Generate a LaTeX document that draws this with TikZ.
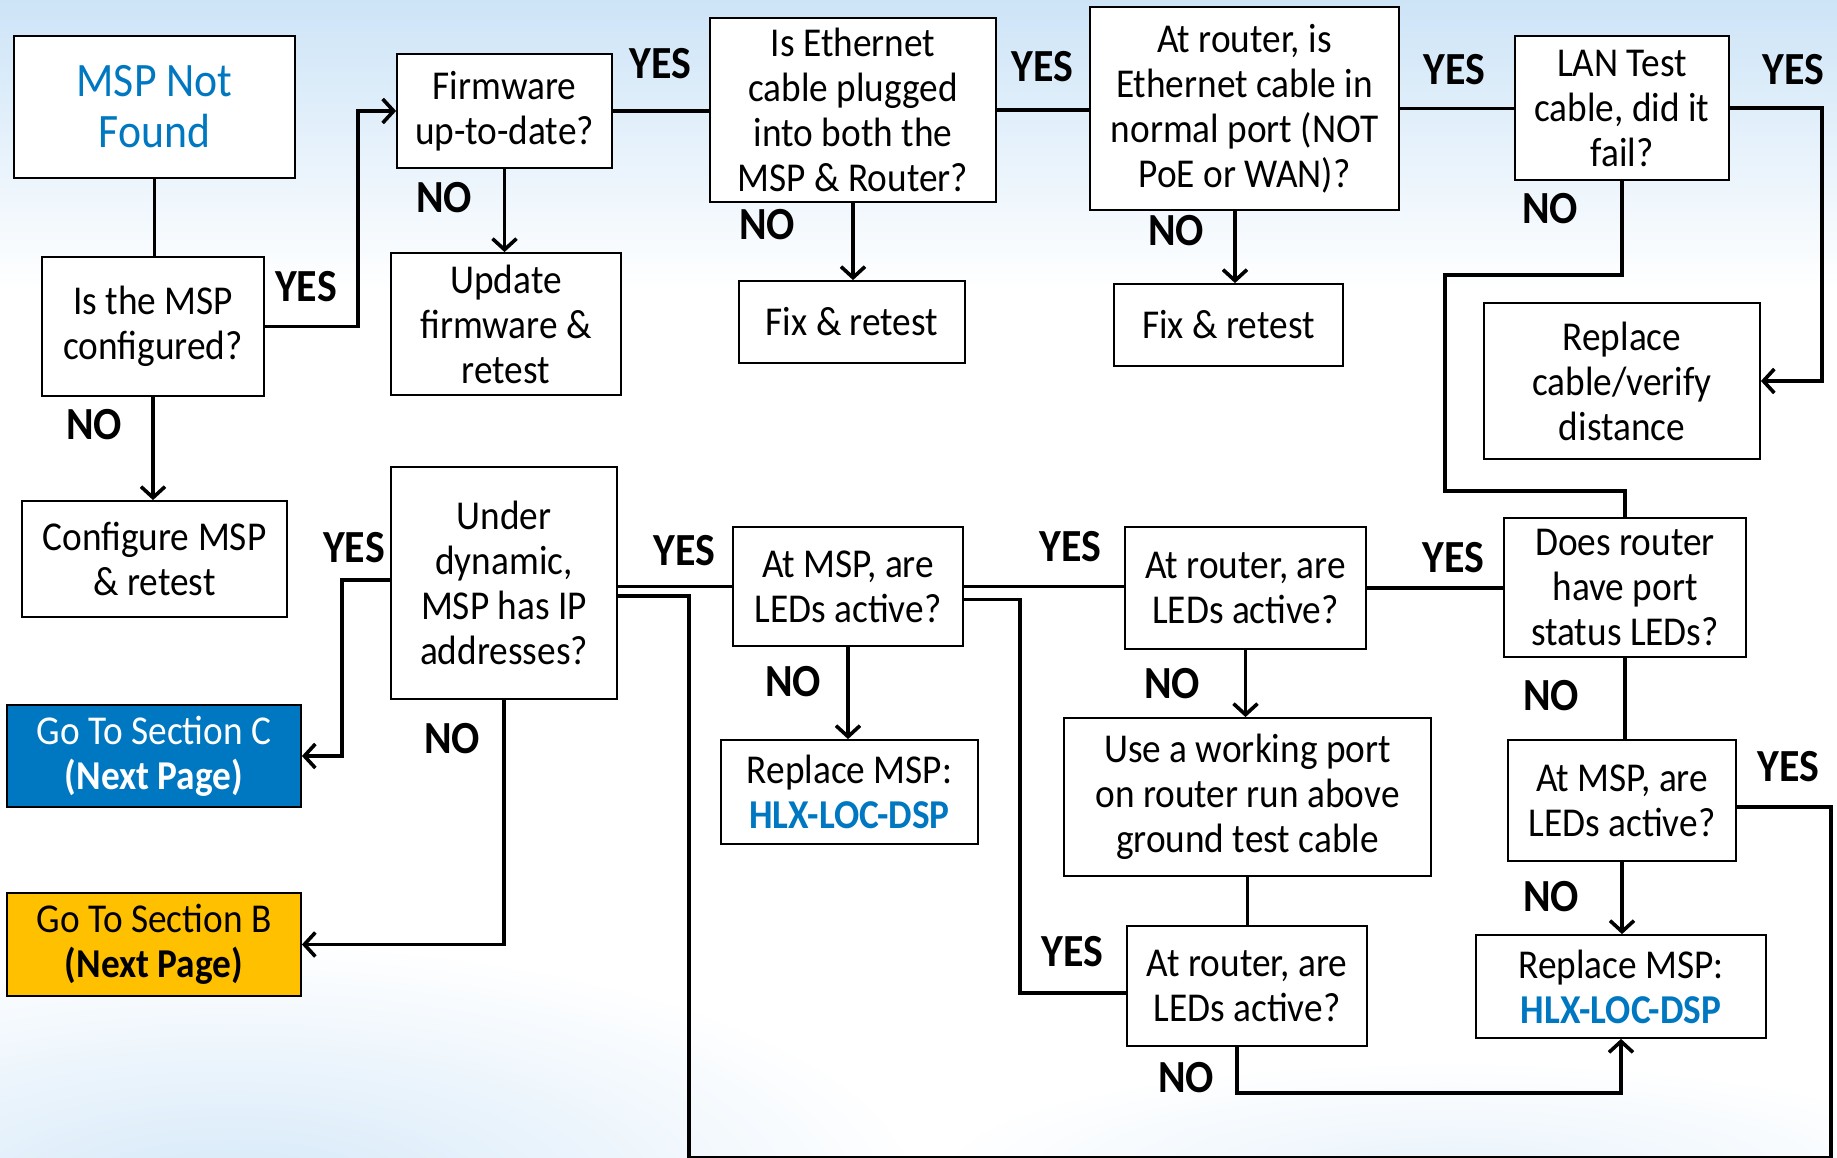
\documentclass[tikz,border=0pt]{standalone}
\usepackage{fontspec}
\setmainfont{Carlito}[FakeStretch=0.91]
\usetikzlibrary{arrows.meta}
\definecolor{mblue}{RGB}{0,120,193}
\definecolor{secyellow}{RGB}{255,192,0}
\definecolor{bgblue}{RGB}{205,228,247}
\tikzset{
  box/.style={draw=black, line width=1.8pt, fill=white, align=center, inner sep=0pt,
    font=\fontsize{41}{45}\selectfont},
  conn/.style={line width=3.6pt, draw=black},
  arr/.style={conn, -{Straight Barb[length=11pt, width=24pt]}},
  lbl/.style={font=\fontsize{46}{46}\selectfont\bfseries, inner sep=0pt},
}
\begin{document}
\begin{tikzpicture}[x=1pt, y=-1pt]
\useasboundingbox (0,0) rectangle (1837,1158);
% background
\fill[white] (0,0) rectangle (1837,1158);
\shade[top color=bgblue, bottom color=white] (0,0) rectangle (1837,290);
\shade[inner color=bgblue!85, outer color=white] (230,1200) ellipse (700 and 260);
\shade[inner color=bgblue!45, outer color=white] (1450,1170) ellipse (520 and 110);

% nodes
\node[box, minimum width=281pt, minimum height=142pt, text=mblue,
      font=\fontsize{48}{51}\selectfont] (msp) at (154.5,107) {MSP Not\\Found};
\node[box, minimum width=222pt, minimum height=139pt] (cfgq) at (153,326.5) {Is the MSP\\configured?};
\node[box, minimum width=265pt, minimum height=116pt] (cfg) at (154.5,559) {Configure MSP\\\& retest};
\node[box, minimum width=215pt, minimum height=114pt] (fw) at (504.5,111) {Firmware\\up-to-date?};
\node[box, minimum width=230pt, minimum height=142pt] (upd) at (506,324) {Update\\firmware \&\\retest};
\node[box, minimum width=286pt, minimum height=184pt] (eth) at (853,110) {Is Ethernet\\cable plugged\\into both the\\MSP \& Router?};
\node[box, minimum width=226pt, minimum height=82pt] (fix1) at (852,322) {Fix \& retest};
\node[box, minimum width=309pt, minimum height=203pt] (port) at (1244.5,108.5) {At router, is\\Ethernet cable in\\normal port (NOT\\PoE or WAN)?};
\node[box, minimum width=229pt, minimum height=82pt] (fix2) at (1228.5,325) {Fix \& retest};
\node[box, minimum width=214pt, minimum height=144pt] (lan) at (1622,108) {LAN Test\\cable, did it\\fail?};
\node[box, minimum width=276pt, minimum height=156pt] (repc) at (1622,381) {Replace\\cable/verify\\distance};
\node[box, minimum width=242pt, minimum height=139pt] (ports) at (1625,587.5) {Does router\\have port\\status LEDs?};
\node[box, minimum width=241pt, minimum height=122pt] (rled1) at (1245.5,588) {At router, are\\LEDs active?};
\node[box, minimum width=230pt, minimum height=119pt] (mled1) at (848,586.5) {At MSP, are\\LEDs active?};
\node[box, minimum width=226pt, minimum height=232pt] (dyn) at (504,583) {Under\\dynamic,\\MSP has IP\\addresses?};
\node[box, minimum width=294pt, minimum height=102pt, fill=mblue, text=white] (secC) at (154,756) {Go To Section C\\\textbf{(Next Page)}};
\node[box, minimum width=294pt, minimum height=103pt, fill=secyellow] (secB) at (154,944.5) {Go To Section B\\\textbf{(Next Page)}};
\node[box, minimum width=257pt, minimum height=104pt] (rep1) at (849.5,792) {Replace MSP:\\\textcolor{mblue}{\bfseries HLX-LOC-DSP}};
\node[box, minimum width=367pt, minimum height=158pt] (work) at (1247.5,797) {Use a working port\\on router run above\\ground test cable};
\node[box, minimum width=240pt, minimum height=120pt] (rled2) at (1247,986) {At router, are\\LEDs active?};
\node[box, minimum width=228pt, minimum height=121pt] (mled2) at (1622,800.5) {At MSP, are\\LEDs active?};
\node[box, minimum width=290pt, minimum height=103pt] (rep2) at (1621,986.5) {Replace MSP:\\\textcolor{mblue}{\bfseries HLX-LOC-DSP}};

% labels
\node[lbl] (yes1) at (306,287) {YES};
\node[lbl] (no1) at (94,425) {NO};
\node[lbl] (yes2) at (660,64) {YES};
\node[lbl] (no2) at (444,198) {NO};
\node[lbl] (yes3) at (1042,67) {YES};
\node[lbl] (no3) at (767,225) {NO};
\node[lbl] (yes4) at (1454,70) {YES};
\node[lbl] (no4) at (1176,231) {NO};
\node[lbl] (yes5) at (1793,70) {YES};
\node[lbl] (no5) at (1550,209) {NO};
\node[lbl] (yes6) at (354,548) {YES};
\node[lbl] (no6) at (452,739) {NO};
\node[lbl] (yes7) at (684,551) {YES};
\node[lbl] (yes8) at (1070,547) {YES};
\node[lbl] (no7) at (793,682) {NO};
\node[lbl] (no8) at (1172,684) {NO};
\node[lbl] (yes9) at (1453,558) {YES};
\node[lbl] (no9) at (1551,696) {NO};
\node[lbl] (yes10) at (1788,767) {YES};
\node[lbl] (no10) at (1551,897) {NO};
\node[lbl] (yes11) at (1072,952) {YES};
\node[lbl] (no11) at (1186,1078) {NO};

% helper coordinates
\coordinate (px) at (1235,0);

% connectors
\draw[conn] (msp.south) -- (msp.south |- cfgq.north);
\draw[arr] (cfgq.east) -- ++(93,0) |- (fw.west);
\draw[arr] (cfgq.south) -- (cfgq.south |- cfg.north);
\draw[arr] (fw.south) -- (fw.south |- upd.north);
\draw[conn] (fw.east) -- (fw.east -| eth.west);
\draw[arr] (eth.south) -- (eth.south |- fix1.north);
\draw[conn] (eth.east) -- (eth.east -| port.west);
\draw[arr] (port.south -| px) -- (px |- fix2.north);
\draw[conn] (port.east) -- (port.east -| lan.west);
\draw[arr] (lan.east) -- ++(92,0) |- (repc.east);
\draw[conn] (lan.south) -- ++(0,94) -| (1445,491) -| (ports.north);
\draw[arr] ([yshift=3pt]dyn.west) -- ++(-48,0) |- (secC.east);
\draw[arr] (dyn.south) |- (secB.east);
\draw[conn] (dyn.east |- mled1.west) -- (mled1.west);
\draw[conn] ([yshift=-13pt]dyn.east) -- (689,596) -- (689,1157.5) -- (1831,1157.5) -- (1831,807) -- ([yshift=-6.5pt]mled2.east);
\draw[conn] (mled1.east) -- (mled1.east -| rled1.west);
\draw[conn] ([yshift=-13pt]mled1.east) -- ++(56,0) |- ([yshift=-7pt]rled2.west);
\draw[arr] (mled1.south) -- (mled1.south |- rep1.north);
\draw[arr] (rled1.south) -- (rled1.south |- work.north);
\draw[conn] (rled1.east) -- (rled1.east -| ports.west);
\draw[conn] (work.south) -- (work.south |- rled2.north);
\draw[arr] ([xshift=-10pt]rled2.south) -- ++(0,46) -| (rep2.south);
\draw[conn] (ports.south) -- (ports.south |- mled2.north);
\draw[arr] (mled2.south) -- (mled2.south |- rep2.north);
\end{tikzpicture}
\end{document}
